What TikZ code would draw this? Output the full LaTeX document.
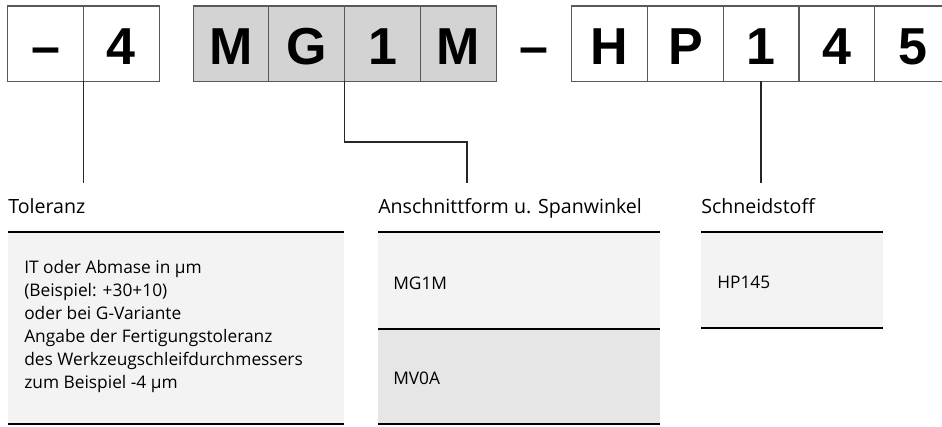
\documentclass[tikz,border=0pt]{standalone}
\usepackage{fontspec}
\setmainfont{Open Sans}
\newfontfamily\codefont{Liberation Sans}
\usetikzlibrary{positioning}

\definecolor{cellgray}{HTML}{D3D3D3}
\definecolor{rowlight}{HTML}{F3F3F3}
\definecolor{rowdark}{HTML}{E6E6E6}

\begin{document}
\begin{tikzpicture}[
      x=0.75pt, y=-0.75pt,
      cell/.style={draw=black!65, line width=0.8pt, outer sep=0pt, inner sep=0pt,
        minimum width=56.8pt, minimum height=56.3pt, text height=32pt, text depth=0pt,
        font=\codefont\bfseries\fontsize{39}{39}\selectfont},
      graycell/.style={cell, fill=cellgray},
      lead/.style={line width=1pt, black!85},
      head/.style={anchor=base west, inner sep=0pt, font=\fontsize{14.7}{17}\selectfont},
      entry/.style={anchor=west, inner sep=0pt, align=left, font=\fontsize{13}{17.25}\selectfont},
      rule/.style={line width=1.6pt}
    ]
    \useasboundingbox (0,0) rectangle (942,426);

    % Code cells
    \node[cell] (cdash) at (45.5,43.5) {–};
    \node[cell, right=0pt of cdash] (c4) {4};
    \node[graycell] (cM) at (231,43.5) {M};
    \node[graycell, right=0pt of cM] (cG) {G};
    \node[graycell, right=0pt of cG] (c1) {1};
    \node[graycell, right=0pt of c1] (cMb) {M};
    \node[cell, draw=none, right=0pt of cMb] (mdash) {–};
    \node[cell, right=0pt of mdash] (cH) {H};
    \node[cell, right=0pt of cH] (cP) {P};
    \node[cell, right=0pt of cP] (c1b) {1};
    \node[cell, right=0pt of c1b] (c4b) {4};
    \node[cell, right=0pt of c4b] (c5) {5};

    % Headings
    \node[head] (tolhead) at (8,213) {Toleranz};
    \node[head] (anhead) at (378,213) {Anschnittform u. Spanwinkel};
    \node[head] (schhead) at (701,213) {Schneidstoff};

    % Leader lines
    \coordinate (lowrow) at (0,183);
    \coordinate (bendrow) at (0,142);
    \coordinate (anend) at (467,183);
    \draw[lead] (c4.south west) -- (c4.south west |- lowrow);
    \draw[lead] (cG.south east) |- (anend |- bendrow) -- (anend);
    \draw[lead] (c1b.south) -- (c1b.south |- lowrow);

    % Toleranz table
    \fill[rowlight] (8,232) rectangle (344,424);
    \draw[rule] (8,232) -- (344,232);
    \draw[rule] (8,424) -- (344,424);
    \node[entry] (toltext) at (24,326) {IT oder Abmase in µm\\(Beispiel: +30+10)\\oder bei G-Variante\\Angabe der Fertigungstoleranz\\des Werkzeugschleifdurchmessers\\zum Beispiel -4 µm};

    % Anschnittform table
    \fill[rowlight] (378,232) rectangle (660,329);
    \fill[rowdark] (378,329) rectangle (660,424);
    \draw[rule] (378,232) -- (660,232);
    \draw[line width=0.8pt] (378,329) -- (660,329);
    \draw[rule] (378,424) -- (660,424);
    \node[entry] (mg) at (393,283) {MG1M};
    \node[entry] (mv) at (393,378) {MV0A};

    % Schneidstoff table
    \fill[rowlight] (701,232) rectangle (883,328);
    \draw[rule] (701,232) -- (883,232);
    \draw[rule] (701,328) -- (883,328);
    \node[entry] (hp) at (717,282) {HP145};
  \end{tikzpicture}
\end{document}
